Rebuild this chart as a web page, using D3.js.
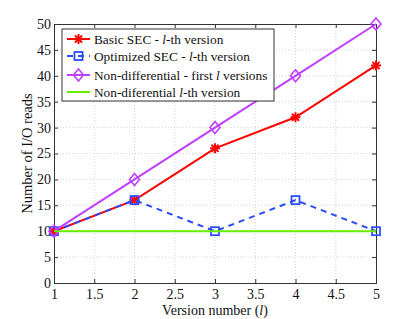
<!DOCTYPE html>
<html>
<head>
<meta charset="utf-8">
<script src="https://cdn.jsdelivr.net/npm/d3@7"></script>
<style>
  body { margin: 0; background: #fff; }
  text { font-family: "Liberation Serif", "DejaVu Serif", serif; }
</style>
</head>
<body>
<svg id="chart" width="415" height="319"></svg>
<script>
const versions = [1, 2, 3, 4, 5];
const basicSec = [10, 16, 26, 32, 42];
const optimizedSec = [10, 16, 10, 16, 10];
const nonDiffFirst = [10, 20, 30, 40, 50];
const nonDiffLth = [10, 10, 10, 10, 10];
const xTicks = [1, 1.5, 2, 2.5, 3, 3.5, 4, 4.5, 5];
const yTicks = [0, 5, 10, 15, 20, 25, 30, 35, 40, 45, 50];

const series = [
  { name: 'basic', values: basicSec, color: '#ff0000', dash: null, marker: 'star',
    label: ['Basic SEC - ', 'l', '-th version'] },
  { name: 'optimized', values: optimizedSec, color: '#2a4dff', dash: '6,5', marker: 'square',
    label: ['Optimized SEC - ', 'l', '-th version'] },
  { name: 'nondiff', values: nonDiffFirst, color: '#bf3fff', dash: null, marker: 'diamond',
    label: ['Non-differential - first ', 'l', ' versions'] },
  { name: 'nondiffl', values: nonDiffLth, color: '#66ee00', dash: null, marker: null,
    label: ['Non-diferential ', 'l', '-th version'] },
];

const svg = d3.select('svg#chart');
const pLeft = 54, pRight = 376, pTop = 24, pBottom = 283;

const x = d3.scaleLinear().domain([1, 5]).range([pLeft, pRight]);
const y = d3.scaleLinear().domain([0, 50]).range([pBottom, pTop]);

// grid
svg.append('g').selectAll('line').data(xTicks.slice(1, -1)).join('line')
  .attr('x1', d => x(d)).attr('x2', d => x(d)).attr('y1', pTop).attr('y2', pBottom)
  .attr('stroke', '#c8c8c8').attr('stroke-width', 0.8).attr('stroke-dasharray', '1,2');
svg.append('g').selectAll('line').data(yTicks.slice(1, -1)).join('line')
  .attr('x1', pLeft).attr('x2', pRight).attr('y1', d => y(d)).attr('y2', d => y(d))
  .attr('stroke', '#c8c8c8').attr('stroke-width', 0.8).attr('stroke-dasharray', '1,2');

// axes
const xAxis = svg.append('g').attr('transform', `translate(0,${pBottom})`)
  .call(d3.axisBottom(x).tickValues(xTicks).tickSize(-4).tickPadding(6).tickFormat(d3.format('')));
const xAxisTop = svg.append('g').attr('transform', `translate(0,${pTop})`)
  .call(d3.axisTop(x).tickValues(xTicks).tickSize(-4).tickFormat(''));
const yAxis = svg.append('g').attr('transform', `translate(${pLeft},0)`)
  .call(d3.axisLeft(y).tickValues(yTicks).tickSize(-4).tickPadding(3));
const yAxisRight = svg.append('g').attr('transform', `translate(${pRight},0)`)
  .call(d3.axisRight(y).tickValues(yTicks).tickSize(-4).tickFormat(''));
[xAxis, xAxisTop, yAxis, yAxisRight].forEach(a => {
  a.selectAll('path').attr('stroke', '#333').attr('stroke-width', 1);
  a.selectAll('line').attr('stroke', '#333');
  a.selectAll('text').attr('font-size', 14).attr('fill', '#111')
    .attr('font-family', '"Liberation Serif", serif');
});

// lines and markers
const line = d3.line().x((d, i) => x(versions[i])).y(d => y(d));

function drawMarker (g, type, cx, cy, color) {
  if (type === 'star') {
    const r = 5;
    for (let k = 0; k < 4; k++) {
      const a = k * Math.PI / 4;
      g.append('line')
        .attr('x1', cx - r * Math.cos(a)).attr('y1', cy - r * Math.sin(a))
        .attr('x2', cx + r * Math.cos(a)).attr('y2', cy + r * Math.sin(a))
        .attr('stroke', color).attr('stroke-width', 2);
    }
  } else if (type === 'square') {
    g.append('rect').attr('x', cx - 4).attr('y', cy - 4).attr('width', 8).attr('height', 8)
      .attr('fill', 'none').attr('stroke', color).attr('stroke-width', 1.8);
  } else if (type === 'diamond') {
    g.append('path')
      .attr('d', `M${cx},${cy - 6}L${cx + 5},${cy}L${cx},${cy + 6}L${cx - 5},${cy}Z`)
      .attr('fill', 'none').attr('stroke', color).attr('stroke-width', 1.6);
  }
}

series.forEach(s => {
  const g = svg.append('g');
  g.append('path').datum(s.values).attr('d', line)
    .attr('fill', 'none').attr('stroke', s.color).attr('stroke-width', 2)
    .attr('stroke-dasharray', s.dash);
  if (s.marker) {
    s.values.forEach((v, i) => drawMarker(g, s.marker, x(versions[i]), y(v), s.color));
  }
});

// legend
const lg = svg.append('g');
lg.append('rect').attr('x', 62).attr('y', 29).attr('width', 212).attr('height', 72)
  .attr('fill', '#fff').attr('stroke', '#333').attr('stroke-width', 1);
const rowY = [39, 56, 75, 92];
series.forEach((s, i) => {
  const yy = rowY[i];
  lg.append('line').attr('x1', 67).attr('x2', 90).attr('y1', yy).attr('y2', yy)
    .attr('stroke', s.color).attr('stroke-width', 2).attr('stroke-dasharray', s.dash);
  if (s.marker) drawMarker(lg, s.marker, 78.5, yy, s.color);
  const t = lg.append('text').attr('x', 94).attr('y', yy + 4.5).attr('font-size', 13.3).attr('fill', '#111');
  t.append('tspan').text(s.label[0]);
  t.append('tspan').attr('font-style', 'italic').text(s.label[1]);
  t.append('tspan').text(s.label[2]);
});

// axis labels
const xl = svg.append('text').attr('x', (pLeft + pRight) / 2).attr('y', 315)
  .attr('text-anchor', 'middle').attr('font-size', 14).attr('fill', '#111');
xl.append('tspan').text('Version number (');
xl.append('tspan').attr('font-style', 'italic').text('l');
xl.append('tspan').text(')');

svg.append('text').attr('transform', `translate(32,${(pTop + pBottom) / 2}) rotate(-90)`)
  .attr('text-anchor', 'middle').attr('font-size', 14.5).attr('fill', '#111')
  .text('Number of I/O reads');
</script>
</body>
</html>
